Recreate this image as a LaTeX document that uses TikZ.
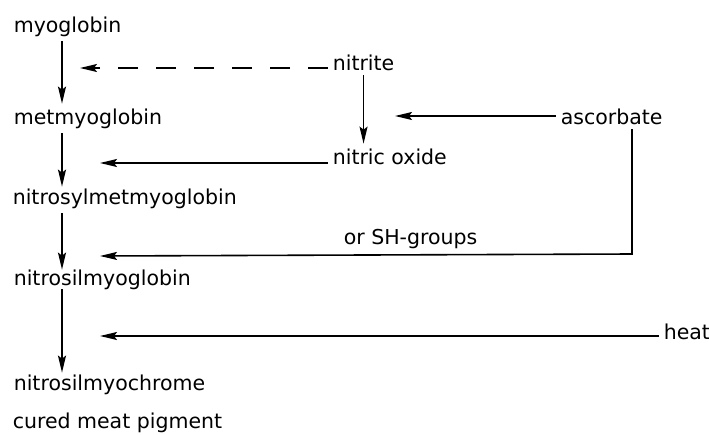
\documentclass[tikz,border=0pt]{standalone}
\usepackage{fontspec}
\setmainfont{DejaVu Sans}
\usetikzlibrary{arrows.meta}
\newcommand\labelsize{\fontsize{20.5pt}{24pt}\selectfont}

\begin{document}
\begin{tikzpicture}[x=1pt, y=-1pt, line width=1.6pt,
    >={Stealth[length=17pt, width=8pt, inset=3pt]},
    every node/.style={font=\labelsize, anchor=base west, inner sep=4pt}]
  \useasboundingbox (0,0) rectangle (709,434);
  % main chain
  \coordinate (axis) at (62,0);
  \node (myo) at (9,32) {myoglobin};
  \node (met) at (9,124) {metmyoglobin};
  \node (nsmet) at (8,204) {nitrosylmetmyoglobin};
  \node (nsmyo) at (9,285) {nitrosilmyoglobin};
  \node (nschr) at (9,390) {nitrosilmyochrome};
  \node (cured) at (8,428) {cured meat pigment};
  % reagents
  \node (nitrite) at (328,70) {nitrite};
  \node (no) at (328,164) {nitric oxide};
  \node (asc) at (556,124) {ascorbate};
  \node (sh) at (339,244) {or SH-groups};
  \node (heat) at (659,339) {heat};
  % arrow tips in free space
  \coordinate (tdash) at (80,68);
  \coordinate (tno) at (100,163);
  \coordinate (tasc) at (395,116);
  \coordinate (corner) at (632,254);
  \coordinate (tsh) at (100,256);
  \coordinate (theat) at (100,336);
  \draw[->] (myo.south -| axis) -- (met.north -| axis);
  \draw[->] (met.south -| axis) -- ([yshift=-3pt]nsmet.north -| axis);
  \draw[->] (nsmet.south -| axis) -- ([yshift=-5pt]nsmyo.north -| axis);
  \draw[->] ([yshift=5pt]nsmyo.south -| axis) -- ([yshift=-3pt]nschr.north -| axis);
  \draw[->, dash pattern=on 20pt off 18pt] (nitrite.west |- tdash) -- (tdash);
  \draw[->] (nitrite.south) -- (nitrite.south |- no.north);
  \draw[->] (no.west |- tno) -- (tno);
  \draw[->] (asc.west |- tasc) -- (tasc);
  \draw[->] (asc.south -| corner) -- (corner) -- (tsh);
  \draw[->] (heat.west |- theat) -- (theat);
\end{tikzpicture}
\end{document}
